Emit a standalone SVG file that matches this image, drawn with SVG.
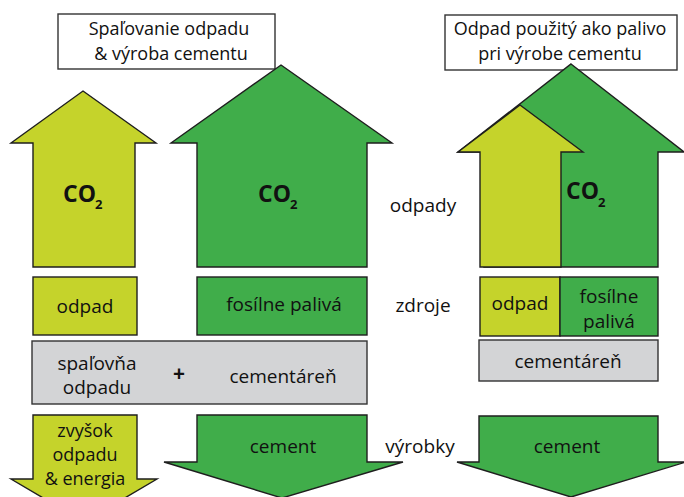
<svg xmlns="http://www.w3.org/2000/svg" width="684" height="497" viewBox="0 0 684 497">
<style>
.y{fill:#C5D32B;stroke:#1e1e1e;stroke-width:1.4}
.g{fill:#40AD4A;stroke:#1e1e1e;stroke-width:1.4}
.s{fill:#D3D4D6;stroke:#333;stroke-width:1.4}
.w{fill:#fff;stroke:#333;stroke-width:1.4}
text{font-family:"Open Sans","Noto Sans",sans-serif;fill:#111;text-anchor:middle}
.t{font-size:18px}
.l{font-size:19px}
.r{font-size:18px}
.c{font-size:23px;font-weight:bold;text-anchor:start}
.sub{font-size:13px;font-weight:bold;text-anchor:start}
</style>
<rect width="684" height="497" fill="#fff"/>
<g id="title-left">
<rect class="w" x="58" y="14" width="217" height="55"/>
<text class="t" x="169" y="35">Spaľovanie odpadu</text>
<text class="t" x="171" y="60">&amp; výroba cementu</text>
</g>
<g id="title-right">
<rect class="w" x="445" y="15" width="232" height="55"/>
<text class="t" x="560" y="35">Odpad použitý ako palivo</text>
<text class="t" x="560" y="60">pri výrobe cementu</text>
</g>
<g id="co2-waste-left">
<polygon class="y" points="83,91 156,143 135,143 135,267 33,267 33,143 11,143"/>
<text class="c" x="63" y="202">CO</text><text class="sub" x="95" y="209">2</text>
</g>
<g id="co2-fossil-left">
<polygon class="g" points="281,65 392,143 367,143 367,267 197,267 197,143 171,143"/>
<text class="c" x="258" y="202">CO</text><text class="sub" x="290" y="209">2</text>
</g>
<g id="co2-fossil-right">
<polygon class="g" points="571,64 684,152 658,152 658,267 484,267 484,152 458,152"/>
<text class="c" x="566" y="199">CO</text><text class="sub" x="598" y="207">2</text>
</g>
<g id="co2-waste-right">
<polygon class="y" points="520,105 583,152 561,152 561,267 480,267 480,152 458,152"/>
</g>
<g id="label-odpady"><text class="l" x="423" y="212">odpady</text></g>
<g id="odpad-left">
<rect class="y" x="33" y="277" width="104" height="58"/>
<text class="l" x="85" y="313">odpad</text>
</g>
<g id="fosilne-left">
<rect class="g" x="197" y="277" width="170" height="58"/>
<text class="l" x="284" y="311">fosílne palivá</text>
</g>
<g id="label-zdroje"><text class="l" x="423" y="312">zdroje</text></g>
<g id="odpad-right">
<rect class="y" x="480" y="277" width="80" height="59"/>
<text class="l" x="520" y="310">odpad</text>
</g>
<g id="fosilne-right">
<rect class="g" x="560" y="277" width="98" height="59"/>
<text class="l" x="609" y="303">fosílne</text>
<text class="l" x="609" y="328">palivá</text>
</g>
<g id="plants-left">
<rect class="s" x="32" y="341" width="335" height="63"/>
<text class="l" x="97" y="370">spaľovňa</text>
<text class="l" x="97" y="394">odpadu</text>
<text class="l" x="179" y="381" style="font-weight:bold;font-size:21px">+</text>
<text class="l" x="283" y="383">cementáreň</text>
</g>
<g id="plant-right">
<rect class="s" x="479" y="340" width="179" height="41"/>
<text class="l" x="568" y="368">cementáreň</text>
</g>
<g id="residue-left">
<polygon class="y" points="33,415 137,415 137,479 157,479 84,522 11,479 33,479"/>
<text class="r" x="85" y="437">zvyšok</text>
<text class="r" x="85" y="461">odpadu</text>
<text class="r" x="85" y="485">&amp; energia</text>
</g>
<g id="cement-left">
<polygon class="g" points="197,415 367,415 367,462 403,462 282,498 164,462 197,462"/>
<text class="l" x="283" y="453">cement</text>
</g>
<g id="label-vyrobky"><text class="l" x="420" y="453">výrobky</text></g>
<g id="cement-right">
<polygon class="g" points="479,416 658,416 658,462 686,462 571,497 457,462 479,462"/>
<text class="l" x="567" y="453">cement</text>
</g>
<g id="connectors"/>
</svg>
